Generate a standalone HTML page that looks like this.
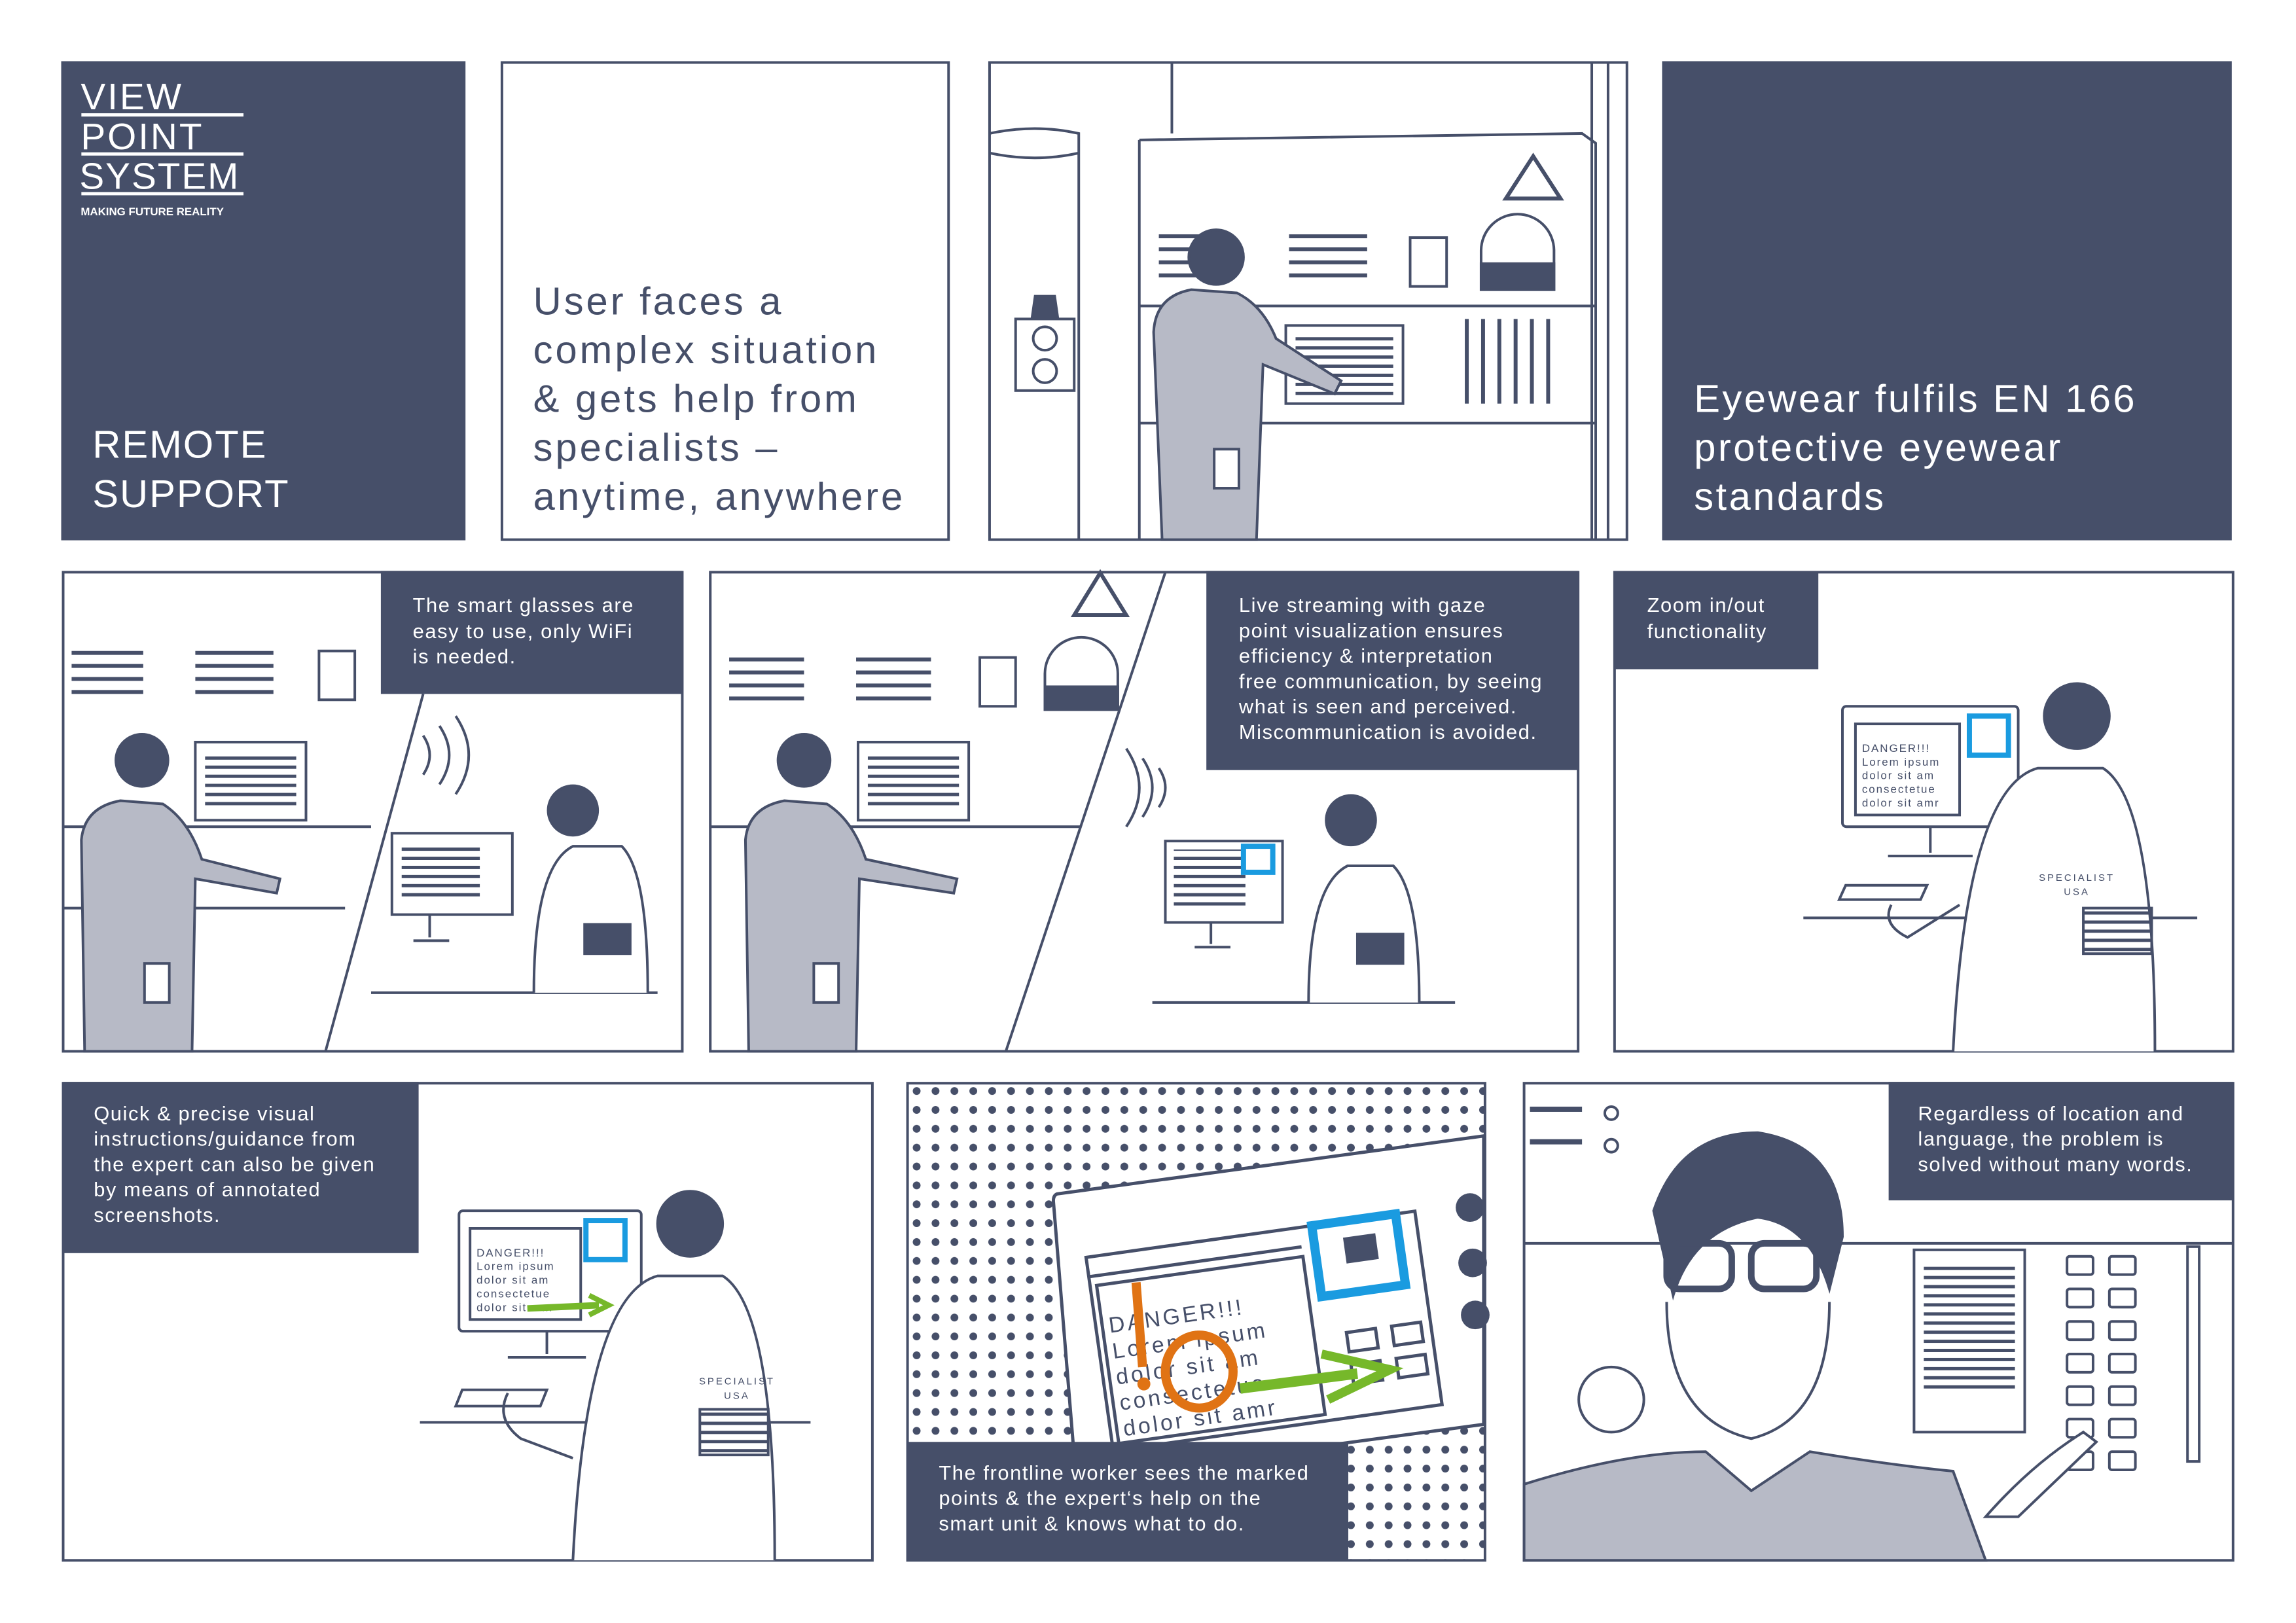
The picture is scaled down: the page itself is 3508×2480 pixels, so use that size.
<!DOCTYPE html>
<html><head><meta charset="utf-8"><style>
html,body{margin:0;padding:0;background:#fff;}
svg{display:block;}
text{font-family:"Liberation Sans",sans-serif;}
.sm{letter-spacing:1.6px;}
.big{letter-spacing:4px;}
.big2{letter-spacing:3.5px;}
</style></head><body>
<svg width="3508" height="2480" viewBox="0 0 3508 2480" xmlns="http://www.w3.org/2000/svg">
<defs>
<pattern id="dots" x="1400" y="1668" width="29" height="29" patternUnits="userSpaceOnUse"><circle cx="8" cy="8" r="6" fill="#464f69"/></pattern>
<pattern id="txt" width="10" height="14" patternUnits="userSpaceOnUse"><rect width="10" height="5" fill="#464f69"/></pattern>
</defs>
<g transform="scale(0.9947)">
<g fill="none" stroke="#464f69" stroke-width="4">
<rect x="94" y="94" width="621" height="736" fill="#464f69" stroke="none"/>
<rect x="771" y="96" width="686" height="733"/>
<rect x="1520" y="96" width="979" height="733"/>
<rect x="2553" y="94" width="875" height="736" fill="#464f69" stroke="none"/>
<rect x="97" y="879" width="951" height="736"/>
<rect x="1091" y="879" width="1333" height="736"/>
<rect x="2480" y="879" width="950" height="736"/>
<rect x="97" y="1664" width="1243" height="733"/>
<rect x="1394" y="1664" width="887" height="733" fill="url(#dots)"/>
<rect x="2341" y="1664" width="1089" height="733"/>
</g>

<g fill="#fff">
<text x="124" y="168" font-size="57" letter-spacing="3">VIEW</text>
<rect x="125" y="174" width="249" height="5"/>
<text x="124" y="229" font-size="57" letter-spacing="3">POINT</text>
<rect x="125" y="234" width="249" height="5"/>
<text x="122" y="290" font-size="57" letter-spacing="2">SYSTEM</text>
<rect x="125" y="295" width="249" height="5"/>
<text x="124" y="331" font-size="17" font-weight="bold">MAKING FUTURE REALITY</text>
<text x="142" y="703" font-size="60" letter-spacing="2">REMOTE</text>
<text x="142" y="779" font-size="60" letter-spacing="2">SUPPORT</text>
</g>
<g fill="#464f69" font-size="60" class="big">
<text x="819" y="483">User faces a</text>
<text x="819" y="558">complex situation</text>
<text x="819" y="633">&amp; gets help from</text>
<text x="819" y="708">specialists –</text>
<text x="819" y="783">anytime, anywhere</text>
</g>
<g fill="#fff" font-size="60" class="big2">
<text x="2602" y="633">Eyewear fulfils EN 166</text>
<text x="2602" y="708">protective eyewear</text>
<text x="2602" y="783">standards</text>
</g>

<g stroke="#464f69" stroke-width="4" fill="none">
<path d="M1520 205 Q1590 190 1657 205 L1657 829 M1520 235 Q1590 250 1657 235"/>
<line x1="1800" y1="96" x2="1800" y2="205"/><line x1="2470" y1="96" x2="2470" y2="829"/><line x1="2445" y1="96" x2="2445" y2="829"/>
<path d="M1750 215 L2430 205 L2451 220 L2451 829 M1750 215 L1750 829"/>
<line x1="1750" y1="470" x2="2451" y2="470"/><line x1="1750" y1="650" x2="2451" y2="650"/>
<path d="M2313 305 L2355 240 L2397 305 Z" stroke-width="6"/>
<rect x="1560" y="490" width="90" height="110"/><circle cx="1605" cy="520" r="18"/><circle cx="1605" cy="570" r="18"/>
<path d="M1585 490 L1590 455 L1620 455 L1625 490" fill="#464f69"/>
<rect x="2166" y="365" width="56" height="75"/>
<path d="M2275 445 L2275 385 A56 56 0 0 1 2387 385 L2387 445 Z"/><rect x="2275" y="405" width="112" height="40" fill="#464f69"/>
<rect x="1975" y="500" width="180" height="120"/>
<rect x="1990" y="515" width="150" height="92" fill="url(#txt)" stroke="none"/>
</g>
<g fill="#464f69">
<rect x="1780" y="360" width="80" height="6"/><rect x="1780" y="380" width="80" height="6"/><rect x="1780" y="400" width="80" height="6"/><rect x="1780" y="420" width="80" height="6"/>
<rect x="1980" y="360" width="120" height="6"/><rect x="1980" y="380" width="120" height="6"/><rect x="1980" y="400" width="120" height="6"/><rect x="1980" y="420" width="120" height="6"/>
<rect x="2250" y="490" width="6" height="130"/><rect x="2275" y="490" width="6" height="130"/><rect x="2300" y="490" width="6" height="130"/><rect x="2325" y="490" width="6" height="130"/><rect x="2350" y="490" width="6" height="130"/><rect x="2375" y="490" width="6" height="130"/>
</g>
<g stroke="#464f69" stroke-width="4" fill="#b7bac6">
<path d="M1785 829 L1772 510 Q1775 455 1830 445 L1900 450 Q1940 470 1960 520 L2060 585 L2050 605 L1940 560 L1930 829 Z"/>
<circle cx="1868" cy="395" r="42" fill="#464f69"/>
<rect x="1865" y="690" width="38" height="60" fill="#fff"/>
</g>

<g stroke="#464f69" stroke-width="4" fill="none">
<line x1="650" y1="1066" x2="500" y2="1615"/>
<path d="M97 1270 L570 1270"/><path d="M97 1395 L530 1395"/>
<rect x="490" y="1000" width="55" height="75"/>
<rect x="300" y="1140" width="170" height="120"/><rect x="315" y="1155" width="140" height="90" fill="url(#txt)" stroke="none"/>
<rect x="602" y="1280" width="185" height="125"/><rect x="617" y="1295" width="120" height="90" fill="url(#txt)" stroke="none"/>
<path d="M660 1405 L660 1440 M635 1445 L690 1445 M570 1525 L1010 1525"/>
<path d="M820 1525 Q820 1330 880 1300 L955 1300 Q995 1340 995 1525" fill="#fff"/>
<circle cx="880" cy="1245" r="38" fill="#464f69"/>
<rect x="898" y="1420" width="70" height="45" fill="#464f69"/>
<path d="M650 1130 Q670 1160 650 1190 M675 1115 Q705 1160 675 1205 M700 1100 Q740 1160 700 1220"/>
</g>
<g fill="#464f69"><rect x="110" y="1000" width="110" height="6"/><rect x="110" y="1020" width="110" height="6"/><rect x="110" y="1040" width="110" height="6"/><rect x="110" y="1060" width="110" height="6"/><rect x="300" y="1000" width="120" height="6"/><rect x="300" y="1020" width="120" height="6"/><rect x="300" y="1040" width="120" height="6"/><rect x="300" y="1060" width="120" height="6"/></g>
<g stroke="#464f69" stroke-width="4" fill="#b7bac6">
<path d="M130 1615 L125 1290 Q130 1240 185 1230 L250 1235 Q290 1260 310 1320 L430 1350 L425 1372 L300 1350 L295 1615 Z"/>
<circle cx="218" cy="1168" r="40" fill="#464f69"/>
<rect x="222" y="1480" width="38" height="60" fill="#fff"/>
</g>
<rect x="585" y="877" width="463" height="189" fill="#464f69"/>
<g fill="#fff" font-size="31" class="sm"><text x="634" y="940">The smart glasses are</text><text x="634" y="980">easy to use, only WiFi</text><text x="634" y="1019">is needed.</text></g>

<g stroke="#464f69" stroke-width="4" fill="none">
<line x1="1790" y1="879" x2="1545" y2="1615"/>
<path d="M1091 1270 L1660 1270"/>
<path d="M1650 945 L1690 880 L1730 945 Z" stroke-width="6"/>
<rect x="1505" y="1010" width="55" height="75"/>
<path d="M1605 1090 L1605 1035 A56 56 0 0 1 1717 1035 L1717 1090 Z"/><rect x="1605" y="1055" width="112" height="35" fill="#464f69"/>
<rect x="1318" y="1140" width="170" height="120"/><rect x="1333" y="1155" width="140" height="90" fill="url(#txt)" stroke="none"/>
<rect x="1790" y="1292" width="180" height="125"/><rect x="1803" y="1305" width="110" height="90" fill="url(#txt)" stroke="none"/>
<rect x="1910" y="1300" width="45" height="40" stroke="#1a9be0" stroke-width="8"/>
<path d="M1860 1417 L1860 1450 M1835 1455 L1890 1455 M1770 1540 L2235 1540"/>
<path d="M2010 1540 Q2010 1360 2070 1330 L2140 1330 Q2180 1370 2180 1540" fill="#fff"/>
<circle cx="2075" cy="1260" r="38" fill="#464f69"/>
<rect x="2085" y="1435" width="70" height="45" fill="#464f69"/>
<path d="M1780 1180 Q1800 1210 1780 1240 M1755 1165 Q1785 1210 1755 1255 M1730 1150 Q1770 1210 1730 1270"/>
</g>
<g fill="#464f69"><rect x="1120" y="1010" width="115" height="6"/><rect x="1120" y="1030" width="115" height="6"/><rect x="1120" y="1050" width="115" height="6"/><rect x="1120" y="1070" width="115" height="6"/><rect x="1315" y="1010" width="115" height="6"/><rect x="1315" y="1030" width="115" height="6"/><rect x="1315" y="1050" width="115" height="6"/><rect x="1315" y="1070" width="115" height="6"/></g>
<g stroke="#464f69" stroke-width="4" fill="#b7bac6">
<path d="M1150 1615 L1145 1290 Q1150 1240 1205 1230 L1270 1235 Q1310 1260 1330 1320 L1470 1350 L1465 1372 L1320 1350 L1315 1615 Z"/>
<circle cx="1235" cy="1168" r="40" fill="#464f69"/>
<rect x="1250" y="1480" width="38" height="60" fill="#fff"/>
</g>
<rect x="1853" y="877" width="571" height="306" fill="#464f69"/>
<g fill="#fff" font-size="31" class="sm"><text x="1903" y="940">Live streaming with gaze</text><text x="1903" y="979">point visualization ensures</text><text x="1903" y="1018">efficiency &amp; interpretation</text><text x="1903" y="1057">free communication, by seeing</text><text x="1903" y="1096">what is seen and perceived.</text><text x="1903" y="1135">Miscommunication is avoided.</text></g>

<g stroke="#464f69" stroke-width="4" fill="none">
<rect x="2830" y="1085" width="270" height="185" rx="6"/>
<rect x="2850" y="1112" width="160" height="140"/>
<g fill="#464f69" stroke="none" font-size="17" letter-spacing="2"><text x="2860" y="1155">DANGER!!!</text><text x="2860" y="1176">Lorem ipsum</text><text x="2860" y="1197">dolor sit am</text><text x="2860" y="1218">consectetue</text><text x="2860" y="1239">dolor sit amr</text></g>
<rect x="3025" y="1100" width="60" height="60" stroke="#1a9be0" stroke-width="8"/>
<path d="M2965 1270 L2965 1310 M2900 1315 L3030 1315 M2770 1410 L3375 1410"/>
<path d="M2835 1360 L2960 1360 L2950 1382 L2825 1382 Z"/>
<path d="M3000 1615 Q3020 1210 3130 1180 L3230 1180 Q3310 1230 3310 1615" fill="#fff"/>
<circle cx="3190" cy="1100" r="50" fill="#464f69"/>
<path d="M2905 1390 Q2890 1420 2930 1440 L3010 1390"/>
<rect x="3200" y="1395" width="105" height="70" fill="url(#txt)"/>
</g>
<rect x="2481" y="879" width="312" height="149" fill="#464f69"/>
<g fill="#fff" font-size="31" class="sm"><text x="2530" y="940">Zoom in/out</text><text x="2530" y="980">functionality</text></g>
<text x="3190" y="1353" font-size="15" fill="#464f69" letter-spacing="3" text-anchor="middle">SPECIALIST</text>
<text x="3190" y="1375" font-size="15" fill="#464f69" letter-spacing="3" text-anchor="middle">USA</text>

<g stroke="#464f69" stroke-width="4" fill="none">
<rect x="705" y="1860" width="280" height="185" rx="6"/>
<rect x="722" y="1887" width="170" height="140"/>
<g fill="#464f69" stroke="none" font-size="17" letter-spacing="2"><text x="732" y="1930">DANGER!!!</text><text x="732" y="1951">Lorem ipsum</text><text x="732" y="1972">dolor sit am</text><text x="732" y="1993">consectetue</text><text x="732" y="2014">dolor sit amr</text></g>
<rect x="900" y="1875" width="60" height="60" stroke="#1a9be0" stroke-width="8"/>
<path d="M810 2010 L920 2005" stroke="#76b82a" stroke-width="10"/><path d="M905 1990 L935 2005 L905 2020" stroke="#76b82a" stroke-width="8"/>
<path d="M840 2045 L840 2080 M780 2085 L900 2085 M645 2185 L1245 2185"/>
<path d="M710 2135 L840 2135 L830 2160 L700 2160 Z"/>
<path d="M880 2397 Q900 1990 1010 1960 L1110 1960 Q1190 2010 1190 2397" fill="#fff"/>
<circle cx="1060" cy="1880" r="50" fill="#464f69"/>
<path d="M780 2140 Q760 2180 800 2210 L880 2240"/>
<rect x="1075" y="2165" width="105" height="70" fill="url(#txt)"/>
</g>
<rect x="97" y="1662" width="546" height="263" fill="#464f69"/>
<g fill="#fff" font-size="31" class="sm"><text x="144" y="1721">Quick &amp; precise visual</text><text x="144" y="1760">instructions/guidance from</text><text x="144" y="1799">the expert can also be given</text><text x="144" y="1838">by means of annotated</text><text x="144" y="1877">screenshots.</text></g>
<text x="1132" y="2127" font-size="15" fill="#464f69" letter-spacing="3" text-anchor="middle">SPECIALIST</text>
<text x="1132" y="2149" font-size="15" fill="#464f69" letter-spacing="3" text-anchor="middle">USA</text>

<path d="M1624 1834 L2279 1745 L2279 2188 L1664 2271 Q1654 2272 1652 2262 L1618 1845 Q1618 1836 1624 1834 Z" fill="#fff" stroke="#464f69" stroke-width="5"/>
<g transform="rotate(-8 1900 2000)">
<rect x="1680" y="1900" width="510" height="300" fill="#fff" stroke="#464f69" stroke-width="5"/>
<line x1="1680" y1="1930" x2="2010" y2="1930" stroke="#464f69" stroke-width="5"/>
<rect x="1690" y="1945" width="320" height="245" fill="none" stroke="#464f69" stroke-width="5"/>
<g fill="#464f69" font-size="34" letter-spacing="4"><text x="1700" y="2020">DANGER!!!</text><text x="1700" y="2060">Lorem ipsum</text><text x="1700" y="2100">dolor sit am</text><text x="1700" y="2140">consectetue</text><text x="1700" y="2180">dolor sit amr</text></g>
<rect x="2030" y="1900" width="130" height="110" fill="none" stroke="#1a9be0" stroke-width="14"/>
<rect x="2075" y="1925" width="50" height="40" fill="#464f69"/>
<g fill="none" stroke="#464f69" stroke-width="5"><rect x="2060" y="2070" width="45" height="30"/><rect x="2130" y="2070" width="45" height="30"/><rect x="2060" y="2120" width="45" height="30"/><rect x="2130" y="2120" width="45" height="30"/></g>
</g>
<path d="M1745 1970 L1755 2100" stroke="#e07314" stroke-width="14"/><circle cx="1757" cy="2126" r="10" fill="#e07314"/>
<ellipse cx="1842" cy="2107" rx="52" ry="56" fill="none" stroke="#e07314" stroke-width="14"/>
<path d="M1905 2133 L2085 2110" stroke="#76b82a" stroke-width="16"/><path d="M2030 2080 L2135 2104 L2040 2150" fill="none" stroke="#76b82a" stroke-width="14"/>
<circle cx="2258" cy="1855" r="22" fill="#464f69"/><circle cx="2262" cy="1940" r="22" fill="#464f69"/><circle cx="2266" cy="2020" r="22" fill="#464f69"/>
<rect x="1394" y="2215" width="677" height="182" fill="#464f69"/>
<g fill="#fff" font-size="31" class="sm"><text x="1442" y="2273">The frontline worker sees the marked</text><text x="1442" y="2312">points &amp; the expert‘s help on the</text><text x="1442" y="2351">smart unit &amp; knows what to do.</text></g>

<g stroke="#464f69" stroke-width="4" fill="none">
<line x1="2341" y1="1910" x2="3430" y2="1910"/>
<rect x="2940" y="1920" width="170" height="280"/><rect x="2955" y="1940" width="140" height="200" fill="url(#txt)" stroke="none"/>
<g><rect x="3175" y="1930" width="40" height="28" rx="4"/><rect x="3240" y="1930" width="40" height="28" rx="4"/><rect x="3175" y="1980" width="40" height="28" rx="4"/><rect x="3240" y="1980" width="40" height="28" rx="4"/><rect x="3175" y="2030" width="40" height="28" rx="4"/><rect x="3240" y="2030" width="40" height="28" rx="4"/><rect x="3175" y="2080" width="40" height="28" rx="4"/><rect x="3240" y="2080" width="40" height="28" rx="4"/><rect x="3175" y="2130" width="40" height="28" rx="4"/><rect x="3240" y="2130" width="40" height="28" rx="4"/><rect x="3175" y="2180" width="40" height="28" rx="4"/><rect x="3240" y="2180" width="40" height="28" rx="4"/><rect x="3175" y="2230" width="40" height="28" rx="4"/><rect x="3240" y="2230" width="40" height="28" rx="4"/></g>
<rect x="3360" y="1915" width="18" height="330"/>
<circle cx="2475" cy="2150" r="50"/>
<circle cx="2475" cy="1710" r="10"/><circle cx="2475" cy="1760" r="10"/>
<path d="M2560 2000 Q2560 2180 2690 2210 Q2810 2180 2810 2000" fill="#fff"/>
<path d="M2540 1860 Q2580 1740 2700 1740 Q2830 1760 2830 1900 L2810 1980 Q2780 1880 2700 1870 Q2600 1890 2570 1990 Z" fill="#464f69"/>
<rect x="2560" y="1910" width="100" height="70" rx="20" stroke-width="10"/><rect x="2690" y="1910" width="100" height="70" rx="20" stroke-width="10"/>
<path d="M2341 2397 L2341 2280 Q2500 2230 2620 2230 L2690 2290 L2780 2230 Q2900 2250 3000 2260 L3050 2397 Z" fill="#b7bac6"/>
<path d="M3050 2330 Q3120 2250 3200 2200 L3220 2215 L3100 2330 Z" fill="#fff"/>
</g>
<g fill="#464f69"><rect x="2350" y="1700" width="80" height="8"/><rect x="2350" y="1750" width="80" height="8"/></g>
<rect x="2901" y="1662" width="529" height="182" fill="#464f69"/>
<g fill="#fff" font-size="31" class="sm"><text x="2946" y="1721">Regardless of location and</text><text x="2946" y="1760">language, the problem is</text><text x="2946" y="1799">solved without many words.</text></g>
</g>
</svg>
</body></html>
